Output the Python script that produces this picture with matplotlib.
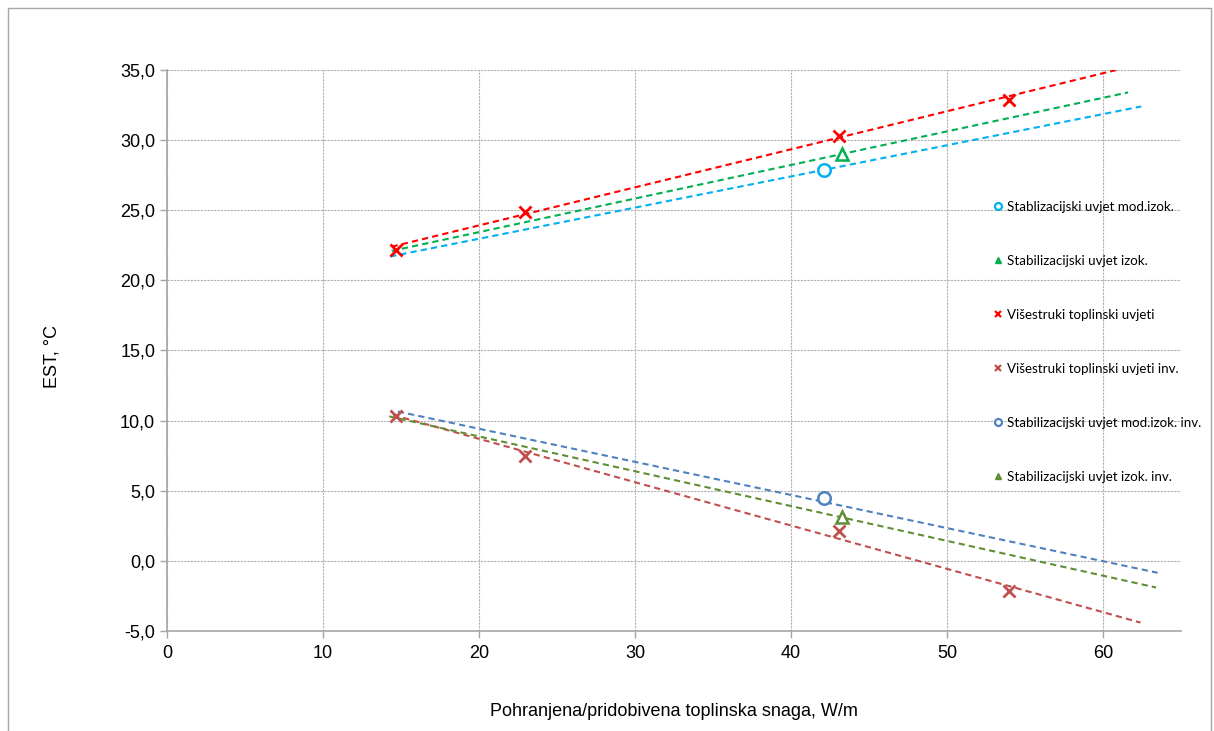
#!/usr/bin/env python3

import matplotlib
matplotlib.use('Agg')
from matplotlib import pyplot as plt
from matplotlib.patches import Rectangle
from matplotlib.ticker import FuncFormatter

# begin DATA
labels = ['Stablizacijski uvjet mod.izok.',
          'Stabilizacijski uvjet izok.',
          'Višestruki toplinski uvjeti',
          'Višestruki toplinski uvjeti inv.',
          'Stabilizacijski uvjet mod.izok. inv.',
          'Stabilizacijski uvjet izok. inv.']

# measured points (W/m, degC)
mod_izok_x = [42.1]
mod_izok_y = [27.85]
izok_x = [43.25]
izok_y = [29.0]
visestruki_x = [14.7, 22.95, 43.05, 54.0]
visestruki_y = [22.15, 24.85, 30.3, 32.85]
visestruki_inv_x = [14.7, 22.95, 43.05, 54.0]
visestruki_inv_y = [10.3, 7.5, 2.1, -2.15]
mod_izok_inv_x = [42.1]
mod_izok_inv_y = [4.5]
izok_inv_x = [43.3]
izok_inv_y = [3.15]

# trendlines (start, end)
trend_mod_izok_x = [14.3, 62.45]
trend_mod_izok_y = [21.7, 32.4]
trend_izok_x = [14.4, 61.6]
trend_izok_y = [22.1, 33.4]
trend_visestruki_x = [14.4, 60.85]
trend_visestruki_y = [22.4, 35.0]
trend_visestruki_inv_x = [14.5, 62.4]
trend_visestruki_inv_y = [10.4, -4.4]
trend_mod_izok_inv_x = [14.8, 63.5]
trend_mod_izok_inv_y = [10.65, -0.85]
trend_izok_inv_x = [14.25, 63.4]
trend_izok_inv_y = [10.3, -1.9]

xticks = [0, 10, 20, 30, 40, 50, 60]
yticks = [-5, 0, 5, 10, 15, 20, 25, 30, 35]
# end DATA

colors = ['#00B0F0', '#00B050', '#FF0000', '#C0504D', '#4F81BD', '#5E8F35']

fig = plt.figure(figsize=(12.14, 7.31), dpi=100)
fig.patches.append(Rectangle((8 / 1214, -0.01), 1203 / 1214, 1.0 - 8 / 731 + 0.01,
                             transform=fig.transFigure, fill=False,
                             edgecolor='#A6A6A6', linewidth=1.0))
ax = fig.add_axes([167 / 1214, 1 - 631 / 731, (1181 - 167) / 1214, (631 - 70) / 731])

trends = [(trend_mod_izok_x, trend_mod_izok_y),
          (trend_izok_x, trend_izok_y),
          (trend_visestruki_x, trend_visestruki_y),
          (trend_visestruki_inv_x, trend_visestruki_inv_y),
          (trend_mod_izok_inv_x, trend_mod_izok_inv_y),
          (trend_izok_inv_x, trend_izok_inv_y)]
for (tx, ty), c in zip(trends, colors):
    ax.plot(tx, ty, color=c, linestyle=(0, (3, 2)), linewidth=1.5, zorder=2)

series = [(mod_izok_x, mod_izok_y, 'o', True),
          (izok_x, izok_y, '^', True),
          (visestruki_x, visestruki_y, 'x', False),
          (visestruki_inv_x, visestruki_inv_y, 'x', False),
          (mod_izok_inv_x, mod_izok_inv_y, 'o', True),
          (izok_inv_x, izok_inv_y, '^', True)]
handles = []
for (sx, sy, m, hollow), c, lab in zip(series, colors, labels):
    if hollow:
        ax.plot(sx, sy, m, markersize=9, markerfacecolor='white',
                markeredgecolor=c, markeredgewidth=1.8, zorder=3)
    else:
        ax.plot(sx, sy, m, markersize=8, color=c, markeredgewidth=2.0, zorder=3)
    h, = ax.plot([], [], m, markersize=5, color=c,
                 markerfacecolor=('white' if m == 'o' else c),
                 markeredgewidth=1.6 if m != '^' else 1.0, label=lab)
    handles.append(h)

ax.set_xlim(0, 65)
ax.set_ylim(-5, 35)
ax.set_xticks(xticks)
ax.set_yticks(yticks)
ax.yaxis.set_major_formatter(FuncFormatter(lambda v, p: ('%.1f' % v).replace('.', ',')))
ax.grid(True, color='#B0B0B0', linestyle=(0, (2, 1)), linewidth=0.8)
ax.set_axisbelow(True)
for s in ['top', 'right']:
    ax.spines[s].set_visible(False)
for s in ['left', 'bottom']:
    ax.spines[s].set_color('#A6A6A6')
    ax.spines[s].set_linewidth(1.2)
ax.tick_params(axis='both', colors='#A6A6A6', labelcolor='black',
               labelsize=13, length=5, width=1)
for t in ax.get_xticklabels() + ax.get_yticklabels():
    t.set_family('Liberation Sans')
ax.tick_params(axis='x', pad=5)

ax.set_ylabel('EST, °C', family='Liberation Sans', fontsize=13)
ax.yaxis.set_label_coords(-0.113, 0.49)
ax.set_xlabel('Pohranjena/pridobivena toplinska snaga, W/m',
              family='Liberation Sans', fontsize=13)
ax.xaxis.set_label_coords(0.5, -0.144)
ax.xaxis.label.set_va('center')
ax.yaxis.label.set_va('center')

fig.legend(handles=handles, loc='upper left',
           bbox_to_anchor=(983 / 1214, 1 - 189 / 731),
           frameon=False, handlelength=0.5, handletextpad=0.4,
           labelspacing=3.15, prop={'family': 'Lato', 'size': 9.6})

plt.savefig('out.png', dpi=100)
